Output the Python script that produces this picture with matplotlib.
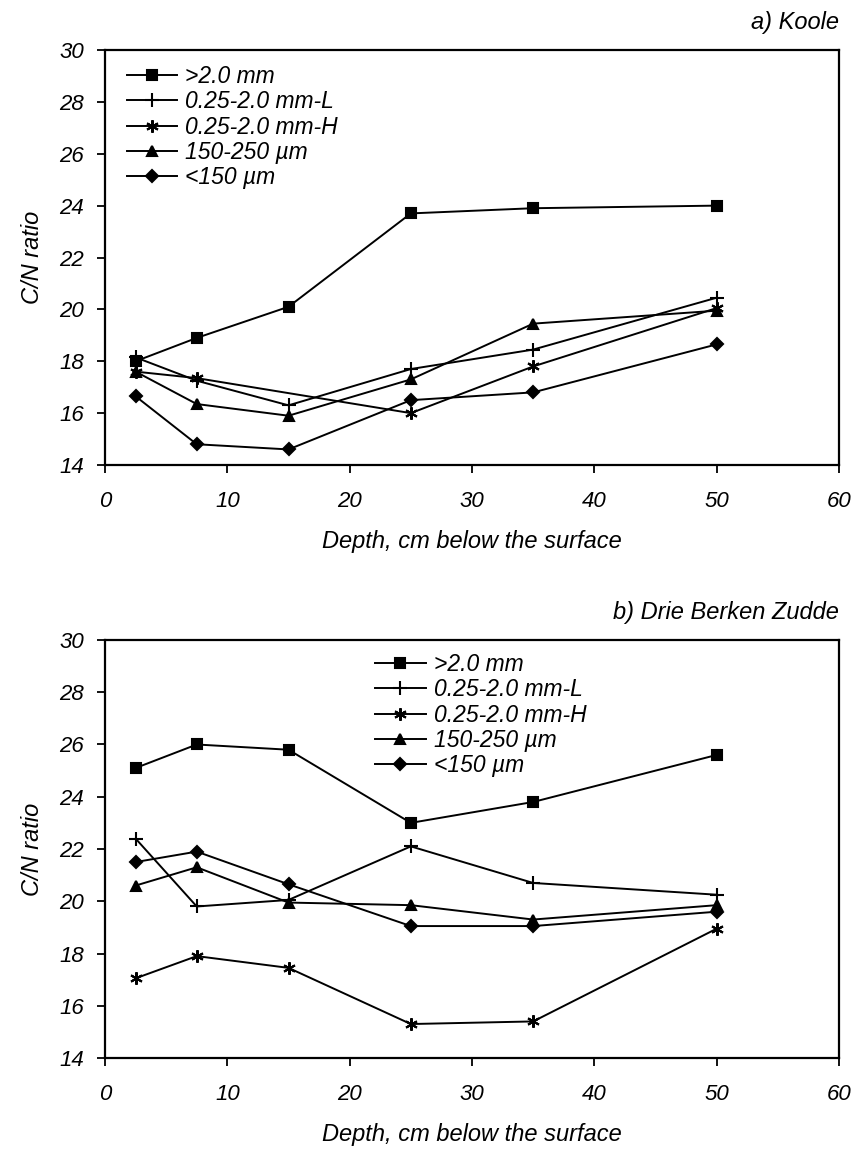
import matplotlib
matplotlib.use("Agg")
import matplotlib.pyplot as plt

plt.rcParams['font.family'] = ['Liberation Sans', 'DejaVu Sans']
plt.rcParams['font.style'] = 'italic'

depth = [2.5, 7.5, 15, 25, 35, 50]
depth_h_koole = [2.5, 7.5, 25, 35, 50]  # no point at 15 cm for this fraction
labels = ['>2.0 mm', '0.25-2.0 mm-L', '0.25-2.0 mm-H', '150-250 µm', '<150 µm']

# a) Koole
koole_gt2 = [18.0, 18.9, 20.1, 23.7, 23.9, 24.0]
koole_L = [18.15, 17.25, 16.3, 17.7, 18.45, 20.45]
koole_H = [17.6, 17.35, 16.0, 17.8, 20.05]
koole_150_250 = [17.6, 16.35, 15.9, 17.3, 19.45, 19.95]
koole_lt150 = [16.65, 14.8, 14.6, 16.5, 16.8, 18.65]

# b) Drie Berken Zudde
dbz_gt2 = [25.1, 26.0, 25.8, 23.0, 23.8, 25.6]
dbz_L = [22.4, 19.8, 20.05, 22.1, 20.7, 20.25]
dbz_H = [17.05, 17.9, 17.45, 15.3, 15.4, 18.95]
dbz_150_250 = [20.6, 21.3, 19.95, 19.85, 19.3, 19.85]
dbz_lt150 = [21.5, 21.9, 20.65, 19.05, 19.05, 19.6]

markers = ['s', '+', (6, 2, 0), '^', 'D']
msizes = [7.5, 10, 9, 7.5, 6]

fig = plt.figure(figsize=(8.55, 11.53), dpi=100)
ax1 = fig.add_axes([105 / 855, 1 - 465 / 1153, 734 / 855, 415 / 1153])
ax2 = fig.add_axes([105 / 855, 1 - 1058 / 1153, 734 / 855, 418 / 1153])


def draw(ax, series, title, legend_anchor):
    for i, (xs, ys) in enumerate(series):
        ax.plot(xs, ys, color='black', lw=1.4, marker=markers[i],
                ms=msizes[i], mew=1.5, mfc='black', mec='black', label=labels[i])
    ax.set_xlim(0, 60)
    ax.set_ylim(14, 30)
    ax.set_xticks(range(0, 61, 10))
    ax.set_yticks(range(14, 31, 2))
    ax.tick_params(direction='out', length=6, width=1.3, labelsize=16)
    ax.tick_params(axis='x', pad=13)
    ax.tick_params(axis='y', pad=9)
    for s in ax.spines.values():
        s.set_linewidth(1.6)
    ax.set_xlabel('Depth, cm below the surface', fontsize=17, labelpad=13)
    ax.set_ylabel('C/N ratio', fontsize=17, labelpad=11)
    ax.set_title(title, loc='right', fontsize=17, pad=15)
    ax.legend(loc='upper left', bbox_to_anchor=legend_anchor, frameon=False,
              fontsize=16.5, handlelength=2.2, handletextpad=0.35,
              labelspacing=0.1, borderaxespad=0, borderpad=0)


draw(ax1, [(depth, koole_gt2), (depth, koole_L), (depth_h_koole, koole_H),
           (depth, koole_150_250), (depth, koole_lt150)],
     'a) Koole', (0.030, 0.964))
draw(ax2, [(depth, dbz_gt2), (depth, dbz_L), (depth, dbz_H),
           (depth, dbz_150_250), (depth, dbz_lt150)],
     'b) Drie Berken Zudde', (0.368, 0.969))

fig.savefig('out.png', dpi=100)
